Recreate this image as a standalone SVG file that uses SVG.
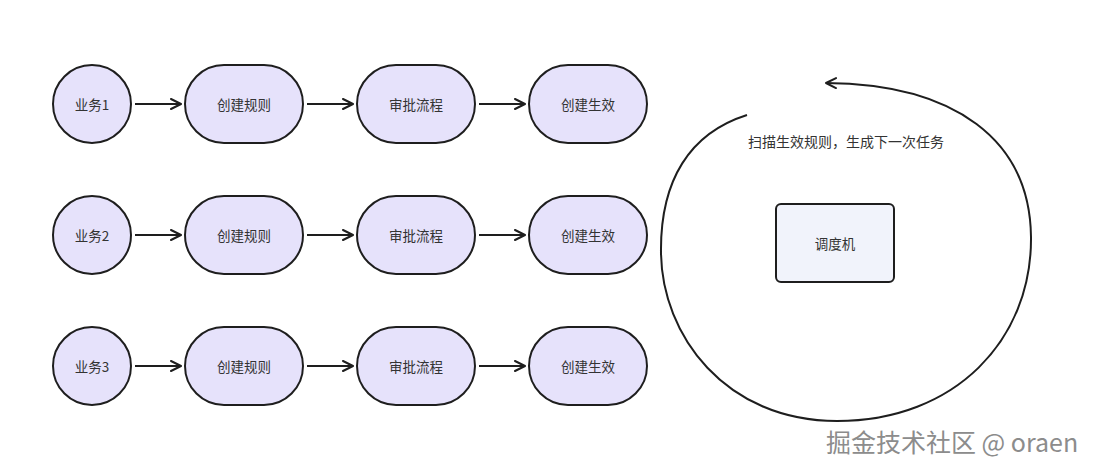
<svg xmlns="http://www.w3.org/2000/svg" width="1098" height="475" viewBox="0 0 1098 475">
<defs>
<style>
.n{fill:#e6e2fb;stroke:#1e1e1e;stroke-width:2}
.t{font-family:"Noto Sans CJK SC","Noto Sans",sans-serif;font-size:13.5px;fill:#333;text-anchor:middle;dominant-baseline:central}
.lb{font-size:14px}
.c{fill:none;stroke:#1e1e1e;stroke-width:2}
.wm{font-family:"Noto Sans CJK SC","Liberation Sans",sans-serif;font-size:25px;fill:#8c8c8c;stroke:#ffffff;stroke-width:0.6;paint-order:stroke}
</style>
<marker id="ah" viewBox="0 0 12 12" refX="11" refY="6" markerWidth="12" markerHeight="12" markerUnits="userSpaceOnUse" orient="auto">
<path d="M1 1 L11 6 L1 11" fill="none" stroke="#1e1e1e" stroke-width="2" stroke-linecap="round" stroke-linejoin="round"/>
</marker>
</defs>
<rect width="1098" height="475" fill="#ffffff"/>

<g id="connectors">
<line class="c" x1="135" y1="104" x2="181" y2="104" marker-end="url(#ah)"/>
<line class="c" x1="307" y1="104" x2="353" y2="104" marker-end="url(#ah)"/>
<line class="c" x1="479" y1="104" x2="525" y2="104" marker-end="url(#ah)"/>
<line class="c" x1="135" y1="235" x2="181" y2="235" marker-end="url(#ah)"/>
<line class="c" x1="307" y1="235" x2="353" y2="235" marker-end="url(#ah)"/>
<line class="c" x1="479" y1="235" x2="525" y2="235" marker-end="url(#ah)"/>
<line class="c" x1="135" y1="366" x2="181" y2="366" marker-end="url(#ah)"/>
<line class="c" x1="307" y1="366" x2="353" y2="366" marker-end="url(#ah)"/>
<line class="c" x1="479" y1="366" x2="525" y2="366" marker-end="url(#ah)"/>
<path class="c" d="M747 115 C690 133, 660 180, 661 253 C662 335, 725 421, 837 421 C955 421, 1032 340, 1031 237 C1030 140, 955 84, 826 83" marker-end="url(#ah)"/>
<text class="t lb" x="846" y="141">扫描生效规则，生成下一次任务</text>
</g>

<g id="r1-biz"><circle class="n" cx="92" cy="104" r="39"/><text class="t" x="92" y="104">业务1</text></g>
<g id="r1-create"><rect class="n" x="185" y="65" width="118" height="78" rx="39"/><text class="t" x="244" y="104">创建规则</text></g>
<g id="r1-approve"><rect class="n" x="357" y="65" width="118" height="78" rx="39"/><text class="t" x="416" y="104">审批流程</text></g>
<g id="r1-effect"><rect class="n" x="529" y="65" width="118" height="78" rx="39"/><text class="t" x="588" y="104">创建生效</text></g>

<g id="r2-biz"><circle class="n" cx="92" cy="235" r="39"/><text class="t" x="92" y="235">业务2</text></g>
<g id="r2-create"><rect class="n" x="185" y="196" width="118" height="78" rx="39"/><text class="t" x="244" y="235">创建规则</text></g>
<g id="r2-approve"><rect class="n" x="357" y="196" width="118" height="78" rx="39"/><text class="t" x="416" y="235">审批流程</text></g>
<g id="r2-effect"><rect class="n" x="529" y="196" width="118" height="78" rx="39"/><text class="t" x="588" y="235">创建生效</text></g>

<g id="r3-biz"><circle class="n" cx="92" cy="366" r="39"/><text class="t" x="92" y="366">业务3</text></g>
<g id="r3-create"><rect class="n" x="185" y="327" width="118" height="78" rx="39"/><text class="t" x="244" y="366">创建规则</text></g>
<g id="r3-approve"><rect class="n" x="357" y="327" width="118" height="78" rx="39"/><text class="t" x="416" y="366">审批流程</text></g>
<g id="r3-effect"><rect class="n" x="529" y="327" width="118" height="78" rx="39"/><text class="t" x="588" y="366">创建生效</text></g>

<g id="scheduler"><rect x="776" y="204" width="118" height="78" rx="5" fill="#f1f3fb" stroke="#1e1e1e" stroke-width="2"/><text class="t" x="835" y="243">调度机</text></g>

<text class="wm" x="826" y="452">掘金技术社区 @ oraen</text>
</svg>
